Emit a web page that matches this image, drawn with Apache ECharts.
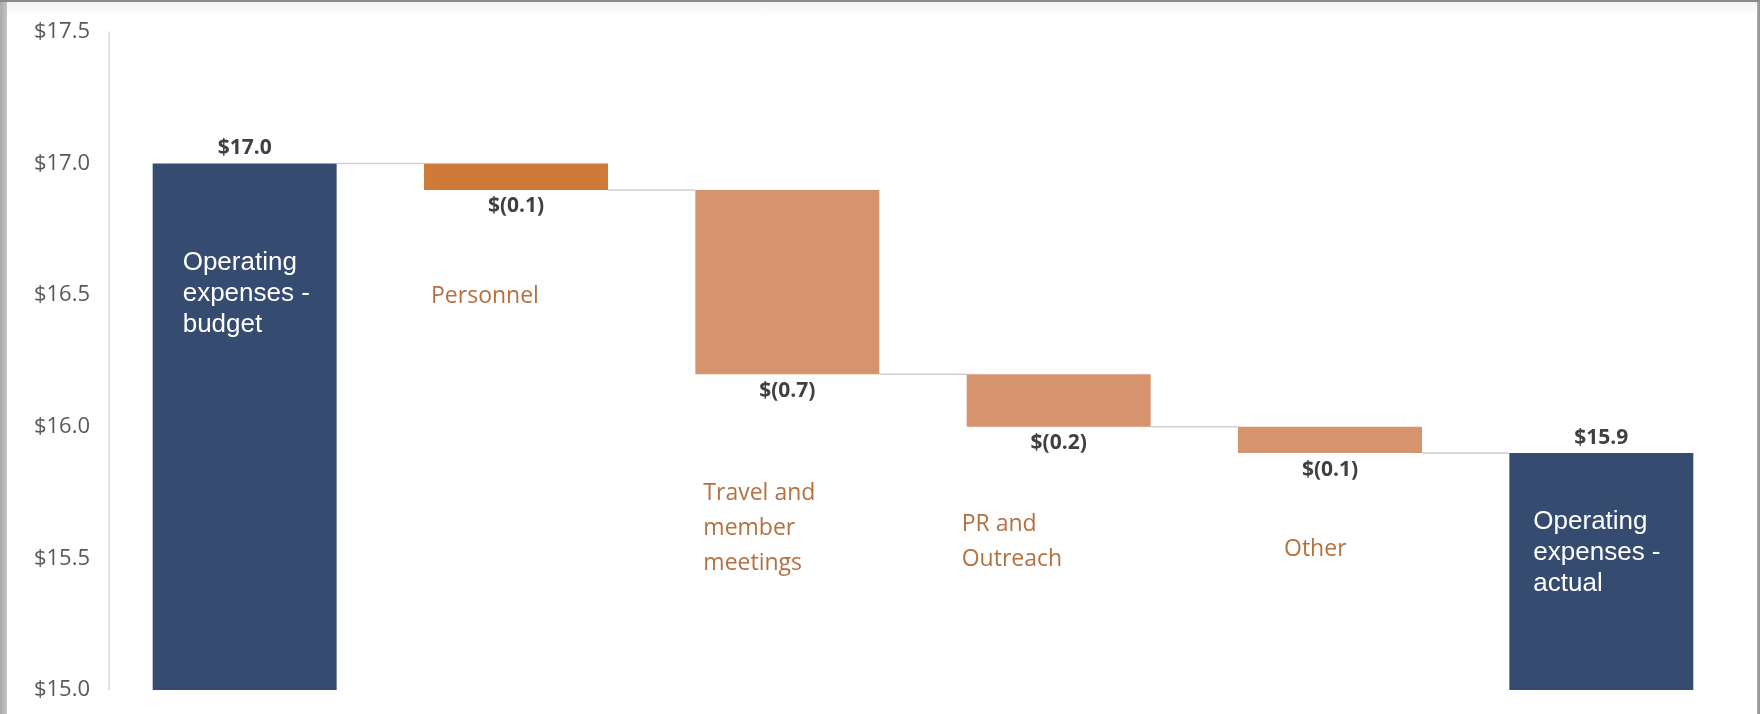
<!DOCTYPE html>
<html>
<head>
<meta charset="utf-8">
<script src="https://cdn.jsdelivr.net/npm/echarts@6/dist/echarts.min.js"></script>
<style>
  html, body { margin: 0; padding: 0; }
  body {
    width: 1760px; height: 714px; overflow: hidden;
    background: linear-gradient(to right, #a9a9a9 0px, #c4c4c4 7px, #c4c4c4 1755px, #8f8f8f 1760px);
    position: relative;
  }
  #topband { position: absolute; left: 0; top: 0; width: 1760px; height: 2px; background: #8a8a8a; }
  #chart {
    position: absolute; left: 7px; top: 2px; width: 1750px; height: 712px;
    background: linear-gradient(to bottom, #f3f3f3 0px, #fdfdfd 12px, #ffffff 16px);
  }
</style>
</head>
<body>
<div id="topband"></div>
<div id="chart"></div>
<script>
// ---- data ----
const categories = [
  'Operating\nexpenses -\nbudget',
  'Personnel',
  'Travel and\nmember\nmeetings',
  'PR and\nOutreach',
  'Other',
  'Operating\nexpenses -\nactual'
];
const values = [17.0, -0.1, -0.7, -0.2, -0.1, 15.9];
const isTotal = [true, false, false, false, false, true];
const yMin = 15.0, yMax = 17.5, yStep = 0.5;

// ---- styling (kept apart from the data) ----
const NAVY = '#354b70';
const deltaColors = [null, '#d07a3a', '#d5936e', '#d5936e', '#d5936e', null];
const nameOffsets = [[30, 84], [7, 89], [8, 102], [-5, 80], [46, 79], [24, 53]];
const round = v => Math.round(v * 10000) / 10000;

// waterfall build
let level = 0;
const baseData = [], deltaData = [], totalData = [], levels = [];
values.forEach((v, i) => {
  if (isTotal[i]) {
    level = v;
    baseData.push(v);
    deltaData.push('-');
    totalData.push(v);
  } else {
    const before = level;
    level = round(level + v);
    baseData.push(Math.min(before, level));
    deltaData.push(round(Math.abs(v)));
    totalData.push('-');
  }
  levels.push(level);
});

const BAR_W = '67.8%';
const txtFont = '"Open Sans", Lato, sans-serif';

const baseSeriesData = baseData.map((b, i) => {
  const tot = isTotal[i];
  return {
    value: b,
    itemStyle: { color: tot ? NAVY : 'rgba(0,0,0,0)' },
    label: {
      show: true,
      position: nameOffsets[i],
      align: 'left',
      verticalAlign: 'top',
      formatter: categories[i],
      color: tot ? '#ffffff' : '#b4703f',
      fontFamily: tot ? '"Liberation Sans", Arial, sans-serif' : txtFont,
      fontSize: tot ? 26 : 23,
      lineHeight: tot ? 31 : 35
    }
  };
});

const deltaSeriesData = deltaData.map((d, i) => ({
  value: d,
  itemStyle: { color: deltaColors[i] || 'rgba(0,0,0,0)' }
}));

const chart = echarts.init(document.getElementById('chart'), null, { renderer: 'canvas' });
chart.setOption({
  animation: false,
  grid: { left: 102, right: 20, top: 30, bottom: 24, containLabel: false },
  xAxis: {
    type: 'category',
    data: categories,
    axisLine: { show: false },
    axisTick: { show: false },
    axisLabel: { show: false },
    splitLine: { show: false }
  },
  yAxis: {
    type: 'value',
    min: yMin, max: yMax, interval: yStep,
    axisLine: { show: true, lineStyle: { color: '#d9d9d9', width: 1.5 } },
    axisTick: { show: false },
    splitLine: { show: false },
    axisLabel: {
      formatter: v => '$' + v.toFixed(1),
      color: '#595959',
      fontFamily: txtFont,
      fontSize: 22,
      margin: 19
    }
  },
  series: [
    {
      type: 'custom',
      z: 1,
      renderItem: (params, api) => {
        const i = api.value(0);
        const lv = api.value(1);
        const p1 = api.coord([i, lv]);
        const p2 = api.coord([i + 1, lv]);
        const half = api.size([1, 0])[0] * 0.339;
        return {
          type: 'line',
          shape: { x1: p1[0] + half, y1: p1[1], x2: p2[0] - half, y2: p2[1] },
          style: { stroke: '#cfcfcf', lineWidth: 1.5 }
        };
      },
      data: levels.slice(0, -1).map((lv, i) => [i, lv]),
      silent: true
    },
    {
      name: 'base',
      type: 'bar',
      stack: 'w',
      barWidth: BAR_W,
      z: 2,
      data: baseSeriesData
    },
    {
      name: 'delta',
      type: 'bar',
      stack: 'w',
      barWidth: BAR_W,
      z: 2,
      data: deltaSeriesData,
      label: {
        show: true,
        position: 'bottom',
        distance: 6,
        formatter: p => '$(' + Number(p.value).toFixed(1) + ')',
        color: '#404040',
        fontWeight: 'bold',
        fontFamily: txtFont,
        fontSize: 21
      }
    },
    {
      name: 'total',
      type: 'bar',
      barWidth: BAR_W,
      barGap: '-100%',
      z: 3,
      data: totalData,
      itemStyle: { color: 'rgba(0,0,0,0)' },
      label: {
        show: true,
        position: 'top',
        distance: 5,
        formatter: p => '$' + Number(p.value).toFixed(1),
        color: '#404040',
        fontWeight: 'bold',
        fontFamily: txtFont,
        fontSize: 21
      }
    }
  ]
});
</script>
</body>
</html>
